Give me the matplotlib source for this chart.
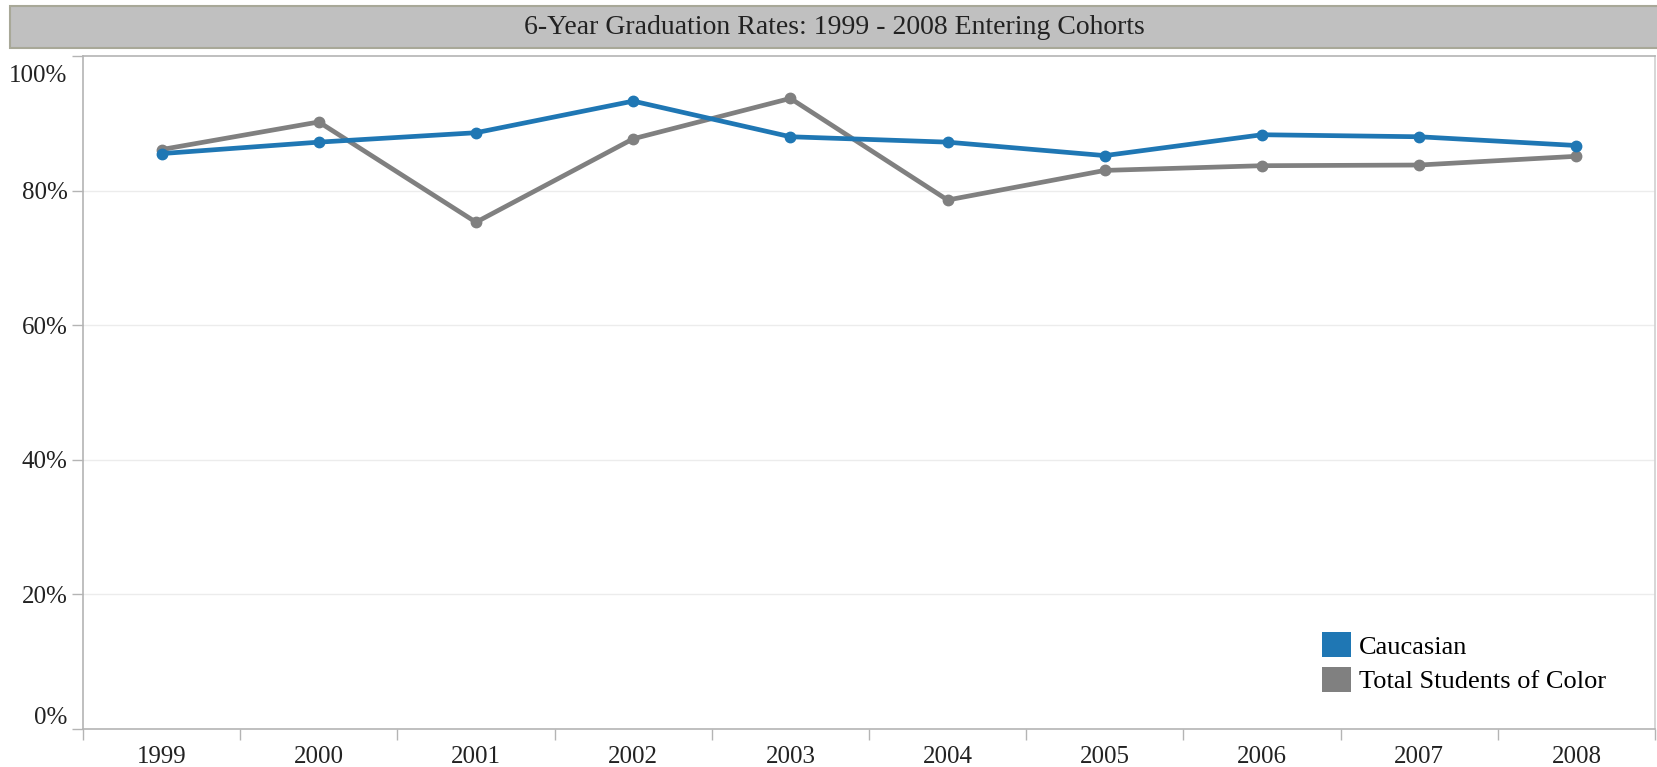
import numpy as np
import matplotlib.pyplot as plt
from matplotlib.patches import Rectangle, Patch
from matplotlib.transforms import ScaledTranslation

plt.rcParams['font.family'] = ['Liberation Serif', 'DejaVu Serif']

# 6-year graduation rates by entering cohort
years = ['1999', '2000', '2001', '2002', '2003', '2004', '2005', '2006', '2007', '2008']
caucasian = [85.5, 87.2, 88.6, 93.3, 88.0, 87.2, 85.2, 88.3, 88.0, 86.7]
students_of_color = [86.1, 90.2, 75.3, 87.7, 93.7, 78.6, 83.0, 83.7, 83.8, 85.1]
y_ticks = [0, 20, 40, 60, 80, 100]

blue = '#1f77b4'
gray = '#808080'
axis_gray = '#b4b4b4'

W, H = 1657, 767
fig = plt.figure(figsize=(W / 100, H / 100), dpi=100)
ax = fig.add_axes([83 / W, 1 - 729 / H, (1655 - 83) / W, (729 - 56) / H])

# title bar
fig.patches.append(Rectangle((10 / W, 1 - 48 / H), 1.0, 42 / H, transform=fig.transFigure,
                             facecolor='#c0c0c0', edgecolor='#a8a898', linewidth=1.5))
fig.text(834 / W, 1 - 28 / H, '6-Year Graduation Rates: 1999 - 2008 Entering Cohorts',
         ha='center', va='center', fontsize=20, color='#222222')

x = np.arange(len(years))
ax.plot(x, caucasian, color=blue, linewidth=3.4, marker='o', markersize=7.5, zorder=3)
ax.plot(x, students_of_color, color=gray, linewidth=3.4, marker='o', markersize=7.5, zorder=2)

ax.set_xlim(-0.5, len(years) - 0.5)
ax.set_ylim(0, 100)

# y axis
ax.set_yticks(y_ticks)
ax.set_yticklabels([f'{v}%' for v in y_ticks])
for v in y_ticks[1:-1]:
    ax.axhline(v, color='#ececec', linewidth=1, zorder=0)

# x axis: labels centred in bands, ticks on band edges
ax.set_xticks(x)
ax.set_xticklabels(years)
ax.set_xticks(np.arange(len(years) + 1) - 0.5, minor=True)
ax.tick_params(axis='x', which='major', length=0, pad=12)
ax.tick_params(axis='x', which='minor', length=8, color=axis_gray, width=1)
ax.tick_params(axis='y', length=8, color=axis_gray, width=1, pad=3)
ax.tick_params(labelsize=18, labelcolor='#222222')

labels = ax.get_yticklabels()
labels[0].set_verticalalignment('bottom')
labels[-1].set_verticalalignment('top')
labels[-1].set_transform(labels[-1].get_transform() + ScaledTranslation(0, -9 / 100, fig.dpi_scale_trans))

for side in ['left', 'bottom', 'top', 'right']:
    ax.spines[side].set_color(axis_gray)
    ax.spines[side].set_linewidth(1.2)
ax.spines['right'].set_color('#d0d0d0')

handles = [Patch(facecolor=blue, label='Caucasian'),
           Patch(facecolor=gray, label='Total Students of Color')]
fig.legend(handles=handles, loc='upper left', bbox_to_anchor=(1322 / W, 1 - 632 / H),
           frameon=False, fontsize=19, borderpad=0, borderaxespad=0,
           handlelength=1.1, handleheight=1.1, handletextpad=0.3, labelspacing=0.3)

plt.savefig('out.png', dpi=100)
plt.close()
